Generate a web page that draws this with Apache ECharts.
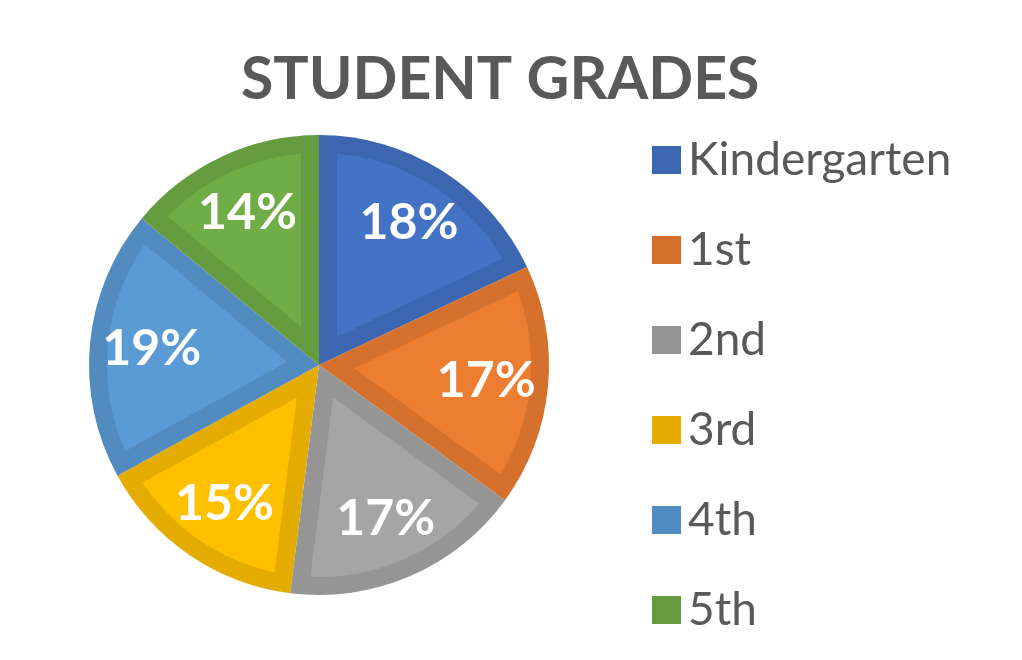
<!DOCTYPE html>
<html>
<head>
<meta charset="utf-8">
<title>Student Grades</title>
<script src="https://cdn.jsdelivr.net/npm/echarts@6/dist/echarts.min.js"></script>
<style>
  html, body { margin: 0; padding: 0; background: #ffffff; }
  #chart { width: 1022px; height: 660px; }
</style>
</head>
<body>
<div id="chart"></div>
<script>
// Grade levels and their share of students (percent)
const categories = ['Kindergarten', '1st', '2nd', '3rd', '4th', '5th'];
const shares = [18, 17, 17, 15, 19, 14];

// Slice face colours and the darker rim around each slice
const faceColors = ['#4472C4', '#ED7D31', '#A5A5A5', '#FFC000', '#5B9BD5', '#70AD47'];
const rimColors = ['#3D66B0', '#D5712C', '#959595', '#E5AC00', '#528BBF', '#659C40'];

// Pie layout
const PIE_CX = 319;
const PIE_CY = 365;
const PIE_R = 230;
const RIM = 18;           // rim thickness in px
const FONT = 'Lato, "Open Sans", sans-serif';

const total = shares.reduce((a, b) => a + b, 0);
const starts = [];
shares.reduce((acc, v) => { starts.push(acc); return acc + v; }, 0);

const pieData = categories.map((name, i) => ({ name, value: shares[i] }));

// Inner face of a slice: the sector pulled in by RIM on every side
function renderFace(params, api) {
  const start = api.value(0);
  const share = api.value(1);
  const a0 = start / total * Math.PI * 2;
  const a1 = (start + share) / total * Math.PI * 2;
  const half = (a1 - a0) / 2;
  const mid = a0 + half;
  const pt = (ang, r) => [PIE_CX + r * Math.sin(ang), PIE_CY - r * Math.cos(ang)];
  const apexDist = RIM / Math.sin(Math.min(half, Math.PI / 2));
  const rIn = PIE_R - RIM;
  const off = Math.asin(RIM / rIn);
  const points = [pt(mid, apexDist)];
  const steps = 48;
  for (let k = 0; k <= steps; k++) {
    const ang = a0 + off + (a1 - a0 - 2 * off) * k / steps;
    points.push(pt(ang, rIn));
  }
  return {
    type: 'polygon',
    shape: { points },
    style: { fill: faceColors[params.dataIndex] }
  };
}

const chart = echarts.init(document.getElementById('chart'), null, { renderer: 'canvas' });

chart.setOption({
  backgroundColor: '#ffffff',
  animation: false,
  title: {
    text: 'STUDENT GRADES',
    left: 236,
    top: 45,
    textStyle: {
      fontFamily: FONT,
      fontSize: 59,
      fontWeight: 'bold',
      color: '#595959'
    }
  },
  legend: {
    data: categories,
    orient: 'vertical',
    left: 647,
    top: 132,
    height: 520,
    itemWidth: 29,
    itemHeight: 28,
    itemGap: 44,
    icon: 'rect',
    selectedMode: false,
    textStyle: {
      fontFamily: FONT,
      fontSize: 46,
      color: '#595959',
      padding: [0, 0, 0, 2]
    }
  },
  series: [
    {
      // full slices in the rim colour
      type: 'pie',
      name: 'rim',
      center: [PIE_CX, PIE_CY],
      radius: [0, PIE_R],
      startAngle: 90,
      clockwise: true,
      silent: true,
      z: 1,
      data: pieData,
      color: rimColors,
      label: { show: false },
      labelLine: { show: false },
      itemStyle: { borderWidth: 0 }
    },
    {
      // lighter faces inside each rim
      type: 'custom',
      name: 'face',
      coordinateSystem: 'none',
      silent: true,
      z: 2,
      data: shares.map((v, i) => [starts[i], v]),
      renderItem: renderFace
    },
    {
      // percentage labels
      type: 'pie',
      name: 'labels',
      center: [PIE_CX, PIE_CY],
      radius: [100, PIE_R],
      startAngle: 90,
      clockwise: true,
      silent: true,
      z: 3,
      data: pieData,
      itemStyle: { color: 'rgba(0,0,0,0)', borderWidth: 0 },
      label: {
        show: true,
        position: 'inside',
        formatter: p => p.value + '%',
        fontFamily: FONT,
        fontSize: 50,
        fontWeight: 'bold',
        color: '#ffffff'
      },
      labelLine: { show: false }
    }
  ]
});
</script>
</body>
</html>
